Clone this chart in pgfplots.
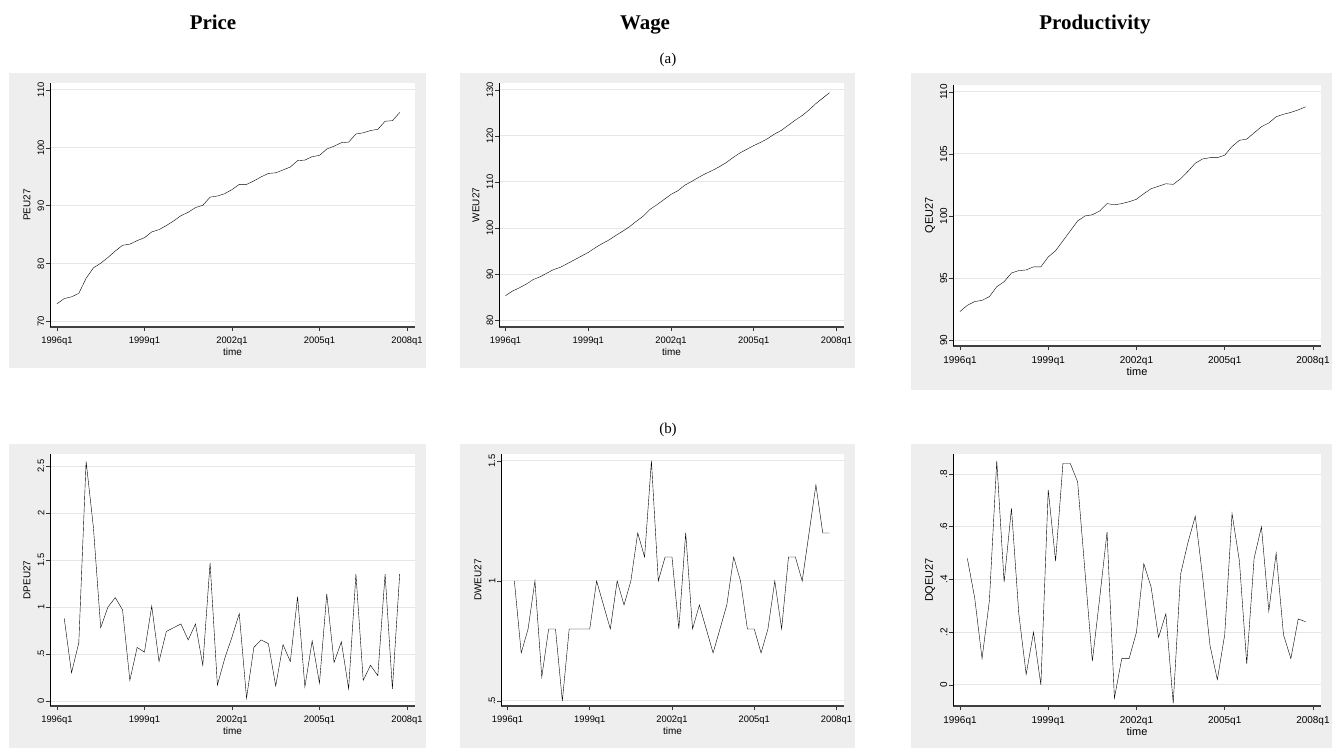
\documentclass[border=0pt]{standalone}
\usepackage{fontspec}
\setmainfont{Liberation Serif}
\setsansfont{Liberation Sans}
\usepackage{pgfplots}
\pgfplotsset{compat=1.18}
\definecolor{bggray}{RGB}{238,238,238}
\definecolor{gridgray}{RGB}{230,230,230}

% Stata-like panel look
\pgfplotsset{
  stata/.style={
    scale only axis,
    axis x line*=bottom, axis y line*=left,
    axis line style={-},
    x axis line style={black!75, line width=1.3bp},
    y axis line style={black, line width=1bp},
    axis background/.style={fill=white},
    xmin=-0.95, xmax=49.1,
    xtick={0,12,24,36,48},
    xticklabels={1996q1,1999q1,2002q1,2005q1,2008q1},
    ymajorgrids,
    grid style={gridgray, line width=1bp},
    tick align=outside,
    major tick length=4bp,
    tick style={black!80, line width=0.8bp},
    xlabel={time},
    xticklabel style={anchor=north, inner sep=1bp, yshift=-5bp},
    yticklabel style={rotate=90, anchor=south, inner sep=1.5bp},
    xlabel style={at={(axis description cs:0.5,0)}, anchor=north, inner sep=0pt, yshift=-21bp},
    ylabel style={at={([xshift=-23bp]axis description cs:0,0.5)}, anchor=center},
    cycle list={{black, line width=1bp, mark=none, line join=round}},
  },
  smallf/.style={
    ticklabel style={font=\sffamily\fontsize{9.4}{10}\selectfont},
    label style={font=\sffamily\fontsize{10}{11}\selectfont},
  },
  bigf/.style={
    ticklabel style={font=\sffamily\fontsize{10}{11}\selectfont},
    label style={font=\sffamily\fontsize{11}{12}\selectfont},
  },
}

\begin{document}
\begin{tikzpicture}
\useasboundingbox (0,0) rectangle (1334bp,748bp);

% column heads
\node[font=\bfseries\fontsize{21}{24}\selectfont, anchor=base] at (213bp,718bp) {Price};
\node[font=\bfseries\fontsize{21}{24}\selectfont, anchor=base] at (645bp,718bp) {Wage};
\node[font=\bfseries\fontsize{21}{24}\selectfont, anchor=base] at (1095bp,718bp) {Productivity};
\node[font=\fontsize{15}{17}\selectfont] at (668bp,688bp) {(a)};
\node[font=\fontsize{15}{17}\selectfont] at (668bp,318bp) {(b)};

% graph regions
\fill[bggray] (9bp,380bp) rectangle (426bp,675bp);
\fill[bggray] (460bp,380bp) rectangle (855bp,675bp);
\fill[bggray] (911bp,358bp) rectangle (1332bp,675bp);
\fill[bggray] (9bp,0bp) rectangle (426bp,304bp);
\fill[bggray] (460bp,0bp) rectangle (855bp,304bp);
\fill[bggray] (911bp,0bp) rectangle (1332bp,304bp);

% (a) levels
\begin{axis}[stata, smallf, at={(50bp,421bp)}, anchor=south west,
  width=365bp, height=244bp, ymin=69.1, ymax=111.2,
  ytick={70,80,90,100,110}, yticklabels={70,80,90,100,110}, ylabel={PEU27}]
\addplot coordinates {
(0,73.1) (1,74.0) (2,74.3) (3,74.9) (4,77.5) (5,79.3) (6,80.1) (7,81.1)
(8,82.2) (9,83.2) (10,83.4) (11,84.0) (12,84.5) (13,85.5) (14,85.9) (15,86.6)
(16,87.4) (17,88.3) (18,88.9) (19,89.7) (20,90.1) (21,91.5) (22,91.7) (23,92.1)
(24,92.8) (25,93.7) (26,93.7) (27,94.3) (28,95.0) (29,95.6) (30,95.7) (31,96.2)
(32,96.7) (33,97.8) (34,97.9) (35,98.5) (36,98.7) (37,99.8) (38,100.3) (39,100.9)
(40,101.0) (41,102.4) (42,102.6) (43,103.0) (44,103.2) (45,104.6) (46,104.7) (47,106.1)};
\end{axis}

\begin{axis}[stata, smallf, at={(499bp,421bp)}, anchor=south west,
  width=345bp, height=244bp, ymin=78.5, ymax=131.5,
  ytick={80,90,100,110,120,130}, yticklabels={80,90,100,110,120,130}, ylabel={WEU27}]
\addplot coordinates {
(0,85.3) (1,86.3) (2,87.0) (3,87.8) (4,88.8) (5,89.4) (6,90.2) (7,91.0)
(8,91.5) (9,92.3) (10,93.1) (11,93.9) (12,94.7) (13,95.7) (14,96.6) (15,97.4)
(16,98.4) (17,99.3) (18,100.3) (19,101.5) (20,102.6) (21,104.1) (22,105.1) (23,106.2)
(24,107.3) (25,108.1) (26,109.3) (27,110.1) (28,111.0) (29,111.8) (30,112.5) (31,113.3)
(32,114.2) (33,115.3) (34,116.3) (35,117.1) (36,117.9) (37,118.6) (38,119.4) (39,120.4)
(40,121.2) (41,122.3) (42,123.4) (43,124.4) (44,125.6) (45,127.0) (46,128.2) (47,129.4)};
\end{axis}

\begin{axis}[stata, bigf, at={(953bp,402bp)}, anchor=south west,
  width=368bp, height=261bp, ymin=89.52, ymax=110.56,
  ytick={90,95,100,105,110}, yticklabels={90,95,100,105,110}, ylabel={QEU27}]
\addplot coordinates {
(0,92.3) (1,92.8) (2,93.1) (3,93.2) (4,93.5) (5,94.3) (6,94.7) (7,95.4)
(8,95.6) (9,95.65) (10,95.9) (11,95.9) (12,96.7) (13,97.2) (14,98.0) (15,98.8)
(16,99.6) (17,100.0) (18,100.1) (19,100.4) (20,101.0) (21,100.9) (22,101.0) (23,101.15)
(24,101.35) (25,101.8) (26,102.2) (27,102.4) (28,102.6) (29,102.55) (30,103.0) (31,103.6)
(32,104.25) (33,104.6) (34,104.7) (35,104.7) (36,104.9) (37,105.6) (38,106.1) (39,106.2)
(40,106.7) (41,107.2) (42,107.5) (43,108.0) (44,108.2) (45,108.35) (46,108.55) (47,108.8)};
\end{axis}

% (b) differences
\begin{axis}[stata, smallf, at={(50bp,42bp)}, anchor=south west,
  width=365bp, height=252bp, ymin=-0.053, ymax=2.628,
  ytick={0,0.5,1,1.5,2,2.5}, yticklabels={0,.5,1,1.5,2,2.5}, ylabel={DPEU27}]
\addplot coordinates {
(1,0.88) (2,0.30) (3,0.62) (4,2.55) (5,1.85) (6,0.78) (7,1.00) (8,1.10)
(9,0.97) (10,0.22) (11,0.57) (12,0.52) (13,1.01) (14,0.42) (15,0.74) (16,0.78)
(17,0.82) (18,0.65) (19,0.82) (20,0.38) (21,1.47) (22,0.17) (23,0.45) (24,0.68)
(25,0.93) (26,0.03) (27,0.57) (28,0.65) (29,0.61) (30,0.16) (31,0.60) (32,0.42)
(33,1.11) (34,0.15) (35,0.64) (36,0.19) (37,1.14) (38,0.41) (39,0.63) (40,0.13)
(41,1.35) (42,0.22) (43,0.38) (44,0.27) (45,1.35) (46,0.13) (47,1.35)};
\end{axis}

\begin{axis}[stata, smallf, at={(501bp,42bp)}, anchor=south west,
  width=343bp, height=252bp, ymin=0.479, ymax=1.529,
  ytick={0.5,1,1.5}, yticklabels={.5,1,1.5}, ylabel={DWEU27}]
\addplot coordinates {
(1,1.0) (2,0.7) (3,0.8) (4,1.0) (5,0.6) (6,0.8) (7,0.8) (8,0.5)
(9,0.8) (10,0.8) (11,0.8) (12,0.8) (13,1.0) (14,0.9) (15,0.8) (16,1.0)
(17,0.9) (18,1.0) (19,1.2) (20,1.1) (21,1.5) (22,1.0) (23,1.1) (24,1.1)
(25,0.8) (26,1.2) (27,0.8) (28,0.9) (29,0.8) (30,0.7) (31,0.8) (32,0.9)
(33,1.1) (34,1.0) (35,0.8) (36,0.8) (37,0.7) (38,0.8) (39,1.0) (40,0.8)
(41,1.1) (42,1.1) (43,1.0) (44,1.2) (45,1.4) (46,1.2) (47,1.2)};
\end{axis}

\begin{axis}[stata, bigf, at={(953bp,42bp)}, anchor=south west,
  width=368bp, height=252bp, ymin=-0.08, ymax=0.876,
  ytick={0,0.2,0.4,0.6,0.8}, yticklabels={0,.2,.4,.6,.8}, ylabel={DQEU27}]
\addplot coordinates {
(1,0.48) (2,0.33) (3,0.10) (4,0.32) (5,0.85) (6,0.39) (7,0.67) (8,0.27)
(9,0.04) (10,0.20) (11,0.00) (12,0.74) (13,0.47) (14,0.84) (15,0.84) (16,0.77)
(17,0.43) (18,0.09) (19,0.33) (20,0.58) (21,-0.05) (22,0.10) (23,0.10) (24,0.20)
(25,0.46) (26,0.37) (27,0.18) (28,0.27) (29,-0.07) (30,0.42) (31,0.54) (32,0.64)
(33,0.41) (34,0.15) (35,0.02) (36,0.19) (37,0.65) (38,0.47) (39,0.08) (40,0.48)
(41,0.60) (42,0.28) (43,0.50) (44,0.19) (45,0.10) (46,0.25) (47,0.24)};
\end{axis}
\end{tikzpicture}
\end{document}
